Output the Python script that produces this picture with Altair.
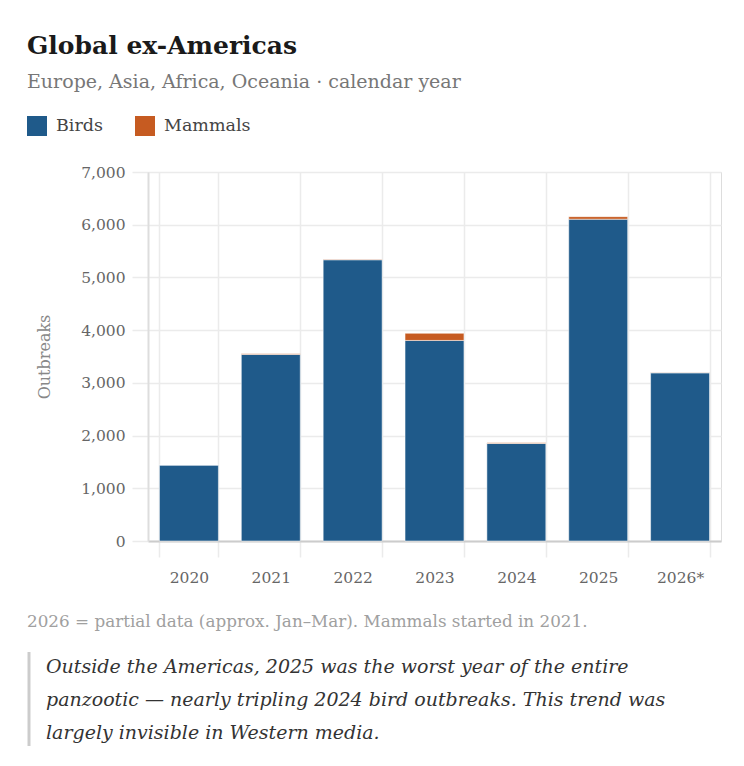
import altair as alt
import pandas as pd

# ---- data ----
years = ["2020", "2021", "2022", "2023", "2024", "2025", "2026*"]
birds = [1440, 3540, 5335, 3805, 1850, 6105, 3190]
mammals = [0, 10, 8, 135, 12, 48, 5]
series = ["Birds", "Mammals"]
series_colors = ["#1f5a8a", "#c65b21"]
y_ticks = [0, 1000, 2000, 3000, 4000, 5000, 6000, 7000]

title_text = "Global ex-Americas"
subtitle_text = "Europe, Asia, Africa, Oceania \u00b7 calendar year"
y_title = "Outbreaks"
footnote_text = "2026 = partial data (approx. Jan\u2013Mar). Mammals started in 2021."
quote_lines = [
    "Outside the Americas, 2025 was the worst year of the entire",
    "panzootic \u2014 nearly tripling 2024 bird outbreaks. This trend was",
    "largely invisible in Western media.",
]

rows = []
for i, yr in enumerate(years):
    rows.append({"year": yr, "series": "Birds", "value": birds[i], "order": 0})
    rows.append({"year": yr, "series": "Mammals", "value": mammals[i], "order": 1})
df = pd.DataFrame(rows)

FONT = "Georgia, 'DejaVu Serif', serif"

bars = alt.Chart(df).mark_bar(stroke="white", strokeWidth=1, strokeOpacity=0.5).encode(
    x=alt.X(
        "year:N",
        sort=years,
        scale=alt.Scale(paddingInner=0.28, paddingOuter=0.14),
        axis=alt.Axis(
            title=None,
            labelAngle=0,
            labelFont=FONT,
            labelFontSize=15.5,
            labelColor="#666",
            labelPadding=13,
            tickBand="extent",
            tickSize=16,
            tickColor="#ebebeb",
            tickWidth=1.5,
            grid=True,
            gridColor="#ebebeb",
            gridWidth=1.5,
            domainColor="#cccccc",
            domainWidth=2,
        ),
    ),
    y=alt.Y(
        "value:Q",
        stack="zero",
        scale=alt.Scale(domain=[0, 7000], nice=False),
        axis=alt.Axis(
            title=y_title,
            titleFont=FONT,
            titleFontSize=16,
            titleFontWeight="normal",
            titleColor="#888",
            titlePadding=28,
            values=y_ticks,
            format=",d",
            labelFont=FONT,
            labelFontSize=15.5,
            labelColor="#666",
            labelPadding=7,
            tickSize=16,
            tickColor="#ebebeb",
            tickWidth=1.5,
            gridColor="#ebebeb",
            gridWidth=1.5,
            domainColor="#dddddd",
            domainWidth=2,
        ),
    ),
    color=alt.Color(
        "series:N",
        scale=alt.Scale(domain=series, range=series_colors),
        legend=alt.Legend(
            title=None,
            orient="none",
            legendX=-121,
            legendY=-56,
            direction="horizontal",
            symbolType="square",
            symbolSize=400,
            symbolStrokeWidth=0,
            symbolOpacity=1,
            labelFont=FONT,
            labelFontSize=17.5,
            labelColor="#444",
            labelOffset=9,
            columnPadding=31,
        ),
    ),
    order=alt.Order("order:Q", sort="ascending"),
)


def text_layer(txt, x, y, size, color, weight="normal", style="normal", line_height=None):
    kw = dict(align="left", baseline="alphabetic", font=FONT, fontSize=size,
              color=color, fontWeight=weight, fontStyle=style)
    if line_height is not None:
        kw["lineBreak"] = "\n"
        kw["lineHeight"] = line_height
    return alt.Chart(pd.DataFrame({"t": [txt]})).mark_text(**kw).encode(
        text="t:N", x=alt.value(x), y=alt.value(y)
    )


title = text_layer(title_text, -121, -118, 25, "#1a1a1a", weight="bold")
subtitle = text_layer(subtitle_text, -121, -84, 19, "#777")
footnote = text_layer(footnote_text, -121, 455, 16.8, "#a0a0a0")
quote = text_layer("\n".join(quote_lines), -102, 501, 19, "#333", style="italic", line_height=33)
quote_bar = alt.Chart(pd.DataFrame({"a": [0]})).mark_rule(color="#cccccc", strokeWidth=3).encode(
    x=alt.value(-119), y=alt.value(480), y2=alt.value(577)
)

chart = alt.layer(bars, title, subtitle, footnote, quote_bar, quote).properties(
    width=573,
    height=369,
    autosize=alt.AutoSizeParams(type="none"),
    padding={"left": 140, "top": 164, "right": 15, "bottom": 205},
).configure_view(stroke=None).configure(background="white")

chart.save("out.html", embed_options={"renderer": "svg", "actions": False})
